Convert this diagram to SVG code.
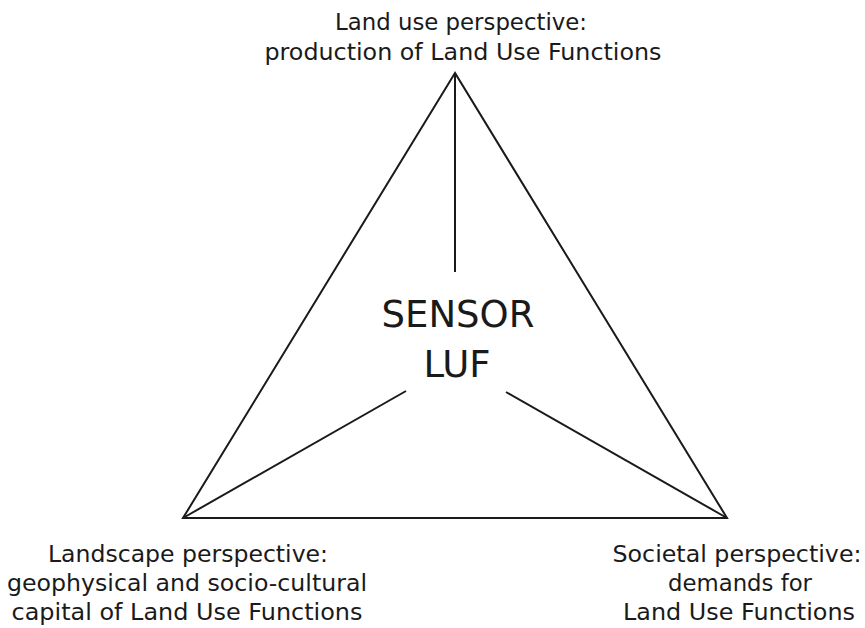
<svg xmlns="http://www.w3.org/2000/svg" width="865" height="628" viewBox="0 0 865 628">
  <style>
    .lbl { font-family: "DejaVu Sans", Verdana, sans-serif; font-size: 23px; fill: #1a1a1a; text-anchor: middle; }
    .core { font-family: "DejaVu Sans", Verdana, sans-serif; font-size: 37px; fill: #1a1a1a; text-anchor: middle; }
    .edge { fill: none; stroke: #1a1a1a; stroke-width: 2; stroke-linejoin: miter; stroke-linecap: butt; }
  </style>
  <rect width="865" height="628" fill="#ffffff"/>
  <g id="connectors">
    <polygon class="edge" points="455,73 183,518 727,518"/>
    <line class="edge" x1="455" y1="73" x2="455" y2="272"/>
    <line class="edge" x1="183" y1="518" x2="406" y2="391"/>
    <line class="edge" x1="727" y1="518" x2="506" y2="392"/>
  </g>
  <g id="node-land-use">
    <text class="lbl" x="461" y="30" textLength="252" lengthAdjust="spacingAndGlyphs">Land use perspective:</text>
    <text class="lbl" x="463" y="60" textLength="397" lengthAdjust="spacingAndGlyphs">production of Land Use Functions</text>
  </g>
  <g id="node-sensor-luf">
    <text class="core" x="458" y="327">SENSOR</text>
    <text class="core" x="457" y="377">LUF</text>
  </g>
  <g id="node-landscape">
    <text class="lbl" x="188" y="562" textLength="280" lengthAdjust="spacingAndGlyphs">Landscape perspective:</text>
    <text class="lbl" x="187" y="591" textLength="360" lengthAdjust="spacingAndGlyphs">geophysical and socio-cultural</text>
    <text class="lbl" x="187" y="620" textLength="351" lengthAdjust="spacingAndGlyphs">capital of Land Use Functions</text>
  </g>
  <g id="node-societal">
    <text class="lbl" x="737" y="562" textLength="249" lengthAdjust="spacingAndGlyphs">Societal perspective:</text>
    <text class="lbl" x="740" y="591" textLength="144" lengthAdjust="spacingAndGlyphs">demands for</text>
    <text class="lbl" x="739" y="620" textLength="232" lengthAdjust="spacingAndGlyphs">Land Use Functions</text>
  </g>
</svg>
